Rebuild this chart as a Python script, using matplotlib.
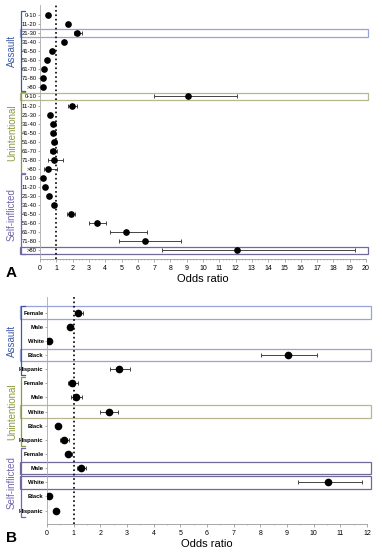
import matplotlib
matplotlib.use("Agg")
import matplotlib.pyplot as plt
from matplotlib.patches import Rectangle
from matplotlib.ticker import MultipleLocator

plt.rcParams['font.family'] = ['Liberation Sans', 'DejaVu Sans']

# Panel A : tranches d'age
ages = ["0-10", "11-20", "21-30", "31-40", "41-50", "51-60", "61-70", "71-80", ">80"]
assault_age = [0.51, 1.71, 2.30, 1.49, 0.72, 0.41, 0.27, 0.20, 0.16]
assault_age_lo = [0.46, 1.60, 2.10, 1.40, 0.66, 0.37, 0.23, 0.16, 0.12]
assault_age_hi = [0.56, 1.82, 2.60, 1.58, 0.78, 0.45, 0.31, 0.24, 0.20]
unint_age = [9.10, 1.96, 0.63, 0.81, 0.78, 0.88, 0.81, 0.88, 0.47]
unint_age_lo = [7.00, 1.69, 0.56, 0.72, 0.68, 0.72, 0.60, 0.51, 0.27]
unint_age_hi = [12.10, 2.30, 0.70, 0.92, 0.90, 1.02, 1.05, 1.39, 1.04]
self_age = [0.16, 0.33, 0.53, 0.84, 1.88, 3.47, 5.30, 6.42, 12.07]
self_age_lo = [0.12, 0.28, 0.47, 0.78, 1.63, 2.98, 4.28, 4.83, 7.50]
self_age_hi = [0.20, 0.38, 0.59, 0.90, 2.14, 4.04, 6.54, 8.67, 19.30]

# Panel B : sexe / ethnie
groups = ["Female", "Male", "White", "Black", "Hispanic"]
assault_grp = [1.17, 0.85, 0.09, 9.02, 2.71]
assault_grp_lo = [1.05, 0.78, 0.06, 8.03, 2.38]
assault_grp_hi = [1.35, 0.92, 0.12, 10.13, 3.13]
unint_grp = [0.93, 1.08, 2.31, 0.41, 0.64]
unint_grp_lo = [0.79, 0.89, 1.98, 0.36, 0.48]
unint_grp_hi = [1.17, 1.32, 2.67, 0.46, 0.82]
self_grp = [0.79, 1.27, 10.54, 0.08, 0.35]
self_grp_lo = [0.70, 1.13, 9.40, 0.05, 0.30]
self_grp_hi = [0.92, 1.45, 11.83, 0.11, 0.40]

intents = ["Assault", "Unintentional", "Self-inflicted"]
intent_colors = ["#3d5aa6", "#8a9a3c", "#7565b0"]
box_colors = ["#9aa3d6", "#b8b890", "#6f6a98"]

boxed_a = [(0, 2), (1, 0), (2, 8)]
boxed_b = [(0, 0), (0, 3), (1, 2), (2, 1), (2, 2)]

W, H = 382, 553
fig = plt.figure(figsize=(W / 100, H / 100), dpi=100)


def add_panel(rect_px, labels, vals, los, his, boxed, xmax, minor, letter,
              msize, label_bold, box_x, box_h):
    x0, y0, x1, y1 = rect_px
    ax = fig.add_axes([x0 / W, 1 - y1 / H, (x1 - x0) / W, (y1 - y0) / H])
    n = len(labels)
    ticklabels = []
    for g in range(3):
        rows = [g * n + i for i in range(n)]
        ax.errorbar(vals[g], rows,
                    xerr=[[v - l for v, l in zip(vals[g], los[g])],
                          [h - v for v, h in zip(vals[g], his[g])]],
                    fmt='o', color='black', ms=msize, ecolor='#444444',
                    elinewidth=0.7, capsize=1.5, capthick=0.7, zorder=3)
        ticklabels += labels
    total = 3 * n
    ax.set_yticks(range(total))
    ax.set_yticklabels(ticklabels, fontsize=4.2,
                       fontweight='bold' if label_bold else 'normal')
    ax.set_xlim(0, xmax)
    ax.xaxis.set_major_locator(MultipleLocator(1))
    ax.xaxis.set_minor_locator(MultipleLocator(minor))
    ax.tick_params(axis='x', labelsize=5, length=2, width=0.5, color='#888888', pad=2)
    ax.tick_params(axis='x', which='minor', length=1, width=0.4, color='#999999')
    ax.tick_params(axis='y', length=1.5, width=0.5, color='#888888', pad=1)
    for s in ['top', 'right']:
        ax.spines[s].set_visible(False)
    ax.spines['left'].set_color('#aaaaaa')
    ax.spines['bottom'].set_color('#999999')
    ax.spines['left'].set_linewidth(0.6)
    ax.spines['bottom'].set_linewidth(0.6)
    ax.axvline(1, color='black', ls=':', lw=1.2, zorder=2)
    ax.set_xlabel("Odds ratio", fontsize=8, labelpad=2)

    # px -> coordonnees axes
    def ax_x(px):
        return (px - x0) / (x1 - x0)

    tr = ax.get_yaxis_transform()
    for g, r in boxed:
        row = g * n + r
        ax.add_patch(Rectangle((ax_x(20), row - box_h), ax_x(box_x) - ax_x(20), 2 * box_h,
                               transform=tr, fill=False, edgecolor=box_colors[g],
                               lw=0.9, clip_on=False, zorder=1))
    # accolades et noms des groupes
    for g in range(3):
        top = g * n - 0.45
        bot = g * n + n - 0.55
        c = intent_colors[g]
        bx, tip = ax_x(21), ax_x(25)
        ax.plot([tip, bx, bx, tip], [top, top, bot, bot], color=c, lw=0.9,
                transform=tr, clip_on=False)
        ax.text(ax_x(12), (top + bot) / 2, intents[g], rotation=90, color=c,
                fontsize=7, ha='center', va='center', transform=tr)
    ax.set_ylim(total - 1 + (y1 - y0) * 0 + 0.95, -1.1)
    fig.text(6 / W, 1 - (y1 + 14) / H, letter, fontsize=11, fontweight='bold',
             va='center', ha='left')
    return ax


add_panel((40, 5, 366, 259), ages,
          [assault_age, unint_age, self_age],
          [assault_age_lo, unint_age_lo, self_age_lo],
          [assault_age_hi, unint_age_hi, self_age_hi],
          boxed_a, 20, 0.2, "A", 3.8, False, 368, 0.4)

add_panel((47, 297, 367, 524), groups,
          [assault_grp, unint_grp, self_grp],
          [assault_grp_lo, unint_grp_lo, self_grp_lo],
          [assault_grp_hi, unint_grp_hi, self_grp_hi],
          boxed_b, 12, 0.5, "B", 4.5, True, 371, 0.44)

fig.savefig("out.png", dpi=100)
